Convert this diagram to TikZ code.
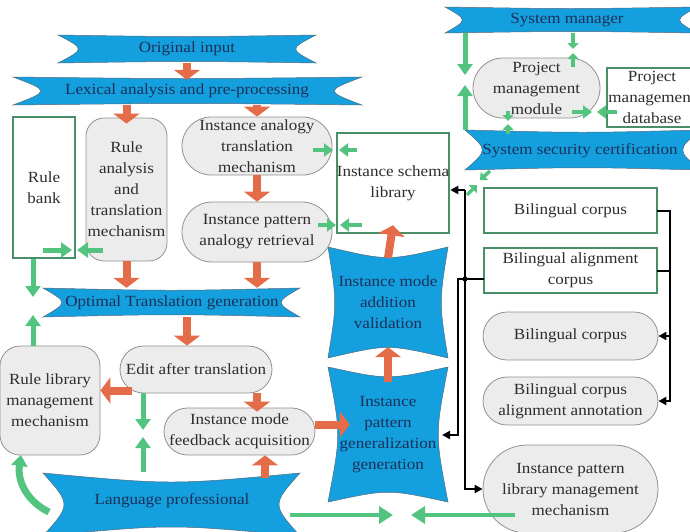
\documentclass[tikz,border=0pt]{standalone}
\usepackage{fontspec}
\setmainfont[FakeStretch=1.1]{Liberation Serif}
\usetikzlibrary{arrows.meta,calc}
\definecolor{bnblue}{RGB}{20,160,222}
\definecolor{bnedge}{RGB}{85,105,125}
\definecolor{bntext}{RGB}{28,48,88}
\definecolor{gyfill}{RGB}{236,236,236}
\definecolor{gyedge}{RGB}{145,145,145}
\definecolor{gytext}{RGB}{45,45,45}
\definecolor{grline}{RGB}{72,142,102}
\definecolor{grarrow}{RGB}{82,196,128}
\definecolor{orarrow}{RGB}{228,108,72}
\newcommand\bannershape[6]{%
  \path[bnshape] (#1,#2) .. controls ({(#1+#3)/2},{#2+#6}) .. (#3,#2)
    .. controls ({#3-#5},{(#2+#4)/2}) .. (#3,#4)
    .. controls ({(#1+#3)/2},{#4-#6}) .. (#1,#4)
    .. controls ({#1+#5},{(#2+#4)/2}) .. cycle;}
\begin{document}
\begin{tikzpicture}[x=1pt,y=-1pt,
  font=\fontsize{15.5pt}{21pt}\selectfont,
  bnshape/.style={fill=bnblue,draw=bnedge,line width=0.5pt},
  bntxt/.style={text=bntext,align=center,inner sep=0pt},
  gybox/.style={fill=gyfill,draw=gyedge,line width=0.8pt,text=gytext,align=center,inner sep=0pt},
  grbox/.style={fill=white,draw=grline,line width=2.4pt,text=gytext,align=center,inner sep=0pt},
  oarr/.style={draw=orarrow,line width=8pt,-{Triangle[width=26pt,length=10pt]}},
  garr/.style={draw=grarrow,line width=5pt,-{Triangle[width=15pt,length=11pt]}},
  mgarr/.style={draw=grarrow,line width=4pt,-{Triangle[width=13pt,length=9pt]}},
  sgarr/.style={draw=grarrow,line width=3.5pt,-{Triangle[width=11pt,length=6pt]}},
  lgarr/.style={draw=grarrow,line width=4.5pt,-{Triangle[width=17pt,length=14pt]}},
  karr/.style={draw=black,line width=2pt,-{Triangle[width=8pt,length=8pt]}},
  kline/.style={draw=black,line width=2pt,line cap=rect},
]
\useasboundingbox (0,0) rectangle (690,531);

% ---------- banners ----------
\bannershape{58}{35}{316}{63}{27}{2}
\node[bntxt,minimum height=28pt] (orig) at (187,49) {Original input};
\bannershape{13}{77}{362}{105}{37}{2}
\node[bntxt,minimum height=28pt] (lex) at (187,91) {Lexical analysis and pre-processing};
\bannershape{43}{288}{300}{317}{25}{3}
\node[bntxt,minimum height=29pt] (opt) at (172,302.5) {Optimal Translation generation};
\bannershape{43}{473}{300}{536}{28}{12}
\node[bntxt] (lang) at (172,501) {Language professional};
\bannershape{328}{247}{448}{358}{9}{14}
\node[bntxt,minimum width=120pt,minimum height=111pt] (val) at (388,302.5) {Instance mode\\addition\\validation};
\bannershape{328}{367}{448}{502}{13}{13}
\node[bntxt,minimum width=120pt,minimum height=135pt] (gen) at (388,434.5) {Instance\\pattern\\generalization\\generation};
\bannershape{445}{7}{697}{33}{23}{2}
\node[bntxt,minimum height=26pt] (sysm) at (567,20) {System manager};
\bannershape{465}{130}{700}{170}{23}{3}
\node[bntxt,minimum height=42pt] (sec) at (580,151) {System security certification};

% ---------- gray boxes ----------
\node[gybox,minimum width=81pt,minimum height=143pt,rounded corners=18pt] (rulean) at (126.5,189.5) {Rule\\analysis\\and\\translation\\mechanism};
\node[gybox,minimum width=150pt,minimum height=58pt,rounded corners=29pt] (ia) at (257,146) {Instance analogy\\translation\\mechanism};
\node[gybox,minimum width=150pt,minimum height=60pt,rounded corners=30pt] (ipa) at (257,232) {Instance pattern\\analogy retrieval};
\node[gybox,minimum width=152pt,minimum height=47pt,rounded corners=23.5pt] (edit) at (196,369.5) {Edit after translation};
\node[gybox,minimum width=100pt,minimum height=109pt,rounded corners=20pt] (rlm) at (50,400.5) {Rule library\\management\\mechanism};
\node[gybox,minimum width=151pt,minimum height=47pt,rounded corners=23.5pt] (fb) at (239.5,431.5) {Instance mode\\feedback acquisition};
\node[gybox,minimum width=127pt,minimum height=60pt,rounded corners=30pt] (pmm) at (536.5,88) {Project\\management\\module};
\node[gybox,minimum width=175pt,minimum height=48pt,rounded corners=24pt] (bc2) at (570.5,336) {Bilingual corpus};
\node[gybox,minimum width=175pt,minimum height=48pt,rounded corners=24pt] (bca) at (570.5,401) {Bilingual corpus\\alignment annotation};
\node[gybox,minimum width=175pt,minimum height=88pt,rounded corners=44pt] (iplm) at (570.5,489) {Instance pattern\\library management\\mechanism};

% ---------- green boxes ----------
\node[grbox,minimum width=62pt,minimum height=141pt] (rb) at (44,187.5) {Rule\\bank};
\node[grbox,minimum width=112pt,minimum height=100pt] (isl) at (393,183) {Instance schema\\library};
\node[grbox,minimum width=173pt,minimum height=45pt] (bc1) at (570.5,210.5) {Bilingual corpus};
\node[grbox,minimum width=173pt,minimum height=45pt] (bac) at (570.5,270.5) {Bilingual alignment\\corpus};
\node[grbox,minimum width=90pt,minimum height=59pt] (pmd) at (652,97.5) {Project\\management\\database};

% ---------- orange arrows ----------
\draw[oarr,shorten >=-3pt] (orig.south) -- (lex.north);
\draw[oarr,shorten >=-6pt] (rulean.north |- lex.south) -- (rulean.north);
\draw[oarr] (ia.north |- lex.south) -- (ia.north);
\draw[oarr] (ia.south) -- (ipa.north);
\draw[oarr] (rulean.south) -- (rulean.south |- opt.north);
\draw[oarr] (ipa.south) -- (ipa.south |- opt.north);
\coordinate (ocol) at (187,330);
\draw[oarr] (ocol |- opt.south) -- (ocol |- edit.north);
\coordinate (oh) at ([xshift=12pt,yshift=-21pt]edit.west);
\draw[oarr] (oh) -- (oh -| rlm.east);
\coordinate (oi) at (257,400);
\draw[oarr,shorten >=-4pt] (oi |- edit.south) -- (oi |- fb.north);
\coordinate (oj) at (265,478);
\draw[oarr] (oj) -- (oj |- fb.south);
\coordinate (ok) at ([yshift=7pt]fb.east);
\draw[oarr,shorten >=-22pt] (ok) -- (ok -| gen.west);
\draw[oarr] ([yshift=-15pt]gen.north) -- ([yshift=11pt]val.south);
\draw[oarr] ([yshift=-11pt]val.north) -- ([yshift=9pt]isl.south);

% ---------- black connectors ----------
\coordinate (kx) at (465,190);
\draw[karr] (kx) -- (kx -| isl.east);
\draw[karr] (kx) |- (iplm.west);
\coordinate (ky) at ([yshift=-8.5pt]bac.west);
\coordinate (kb) at (458,435);
\coordinate (kt) at (442,435);
\draw[kline] (ky) -| (kb);
\draw[karr] (kb) -- (kt);
\fill (kx |- ky) circle (2.6pt);
\coordinate (rbus) at (670,401);
\draw[kline] (bc1.east) -| (rbus);
\draw[kline] (bac.east) -- (bac.east -| rbus);
\draw[karr] (bc2.east -| rbus) -- (bc2.east);
\draw[karr] (rbus) -- (bca.east);

% ---------- green arrows ----------
\coordinate (p1a) at (465,75);
\coordinate (p1b) at (465,85);
\draw[garr] (p1a |- sysm.south) -- (p1a);
\draw[garr] (p1b |- sec.north) -- (p1b);
\coordinate (p2a) at (573,49);
\coordinate (p2b) at (573,53);
\coordinate (p2c) at (573,67);
\draw[sgarr] (p2a |- sysm.south) -- (p2a);
\draw[sgarr] (p2c) -- (p2b);
\coordinate (p3a) at (508,111);
\coordinate (p3b) at (508,121);
\coordinate (p3c) at (508,134);
\coordinate (p3d) at (508,124);
\draw[sgarr] (p3a) -- (p3b);
\draw[sgarr] (p3c) -- (p3d);
\coordinate (p4a) at (572,112);
\coordinate (p4b) at (592,112);
\coordinate (p4c) at (617,112);
\coordinate (p4d) at (597,112);
\draw[mgarr] (p4a) -- (p4b);
\draw[mgarr] (p4c) -- (p4d);
\coordinate (p5a) at (490,171);
\coordinate (p5b) at (480,180);
\coordinate (p5c) at (467,195);
\coordinate (p5d) at (477,185);
\draw[sgarr] (p5a) -- (p5b);
\draw[sgarr] (p5c) -- (p5d);
\coordinate (p6a) at (313,150);
\coordinate (p6b) at (333,150);
\coordinate (p6c) at (357,150);
\coordinate (p6d) at (339,150);
\draw[mgarr] (p6a) -- (p6b);
\draw[mgarr] (p6c) -- (p6d);
\coordinate (p7a) at (318,225);
\coordinate (p7b) at (336,225);
\coordinate (p7c) at (362,225);
\coordinate (p7d) at (340,225);
\draw[mgarr] (p7a) -- (p7b);
\draw[mgarr] (p7c) -- (p7d);
\coordinate (p8a) at (43,250);
\coordinate (p8b) at (72,250);
\coordinate (p8c) at (103,250);
\coordinate (p8d) at (77,250);
\draw[garr] (p8a) -- (p8b);
\draw[garr] (p8c) -- (p8d);
\coordinate (p9a) at (33,297);
\coordinate (p9b) at (33,315);
\draw[garr] (p9a |- rb.south) -- (p9a);
\draw[garr] (p9b |- rlm.north) -- (p9b);
\coordinate (p10a) at (143,430);
\coordinate (p10b) at (143,437);
\coordinate (p10c) at (143,472);
\draw[garr] (p10a |- edit.south) -- (p10a);
\draw[garr] (p10c) -- (p10b);
\coordinate (p11a) at (290,515);
\coordinate (p11b) at (393,515);
\coordinate (p11c) at (515,515);
\coordinate (p11d) at (411,515);
\draw[lgarr] (p11a) -- (p11b);
\draw[lgarr] (p11c) -- (p11d);
\coordinate (cvs) at (49,512);
\coordinate (cve) at (21,455);
\draw[draw=grarrow,line width=7pt,-{Triangle[width=16pt,length=11pt]}] (cvs) .. controls (28,502) and (17,482) .. (cve);
\end{tikzpicture}
\end{document}
